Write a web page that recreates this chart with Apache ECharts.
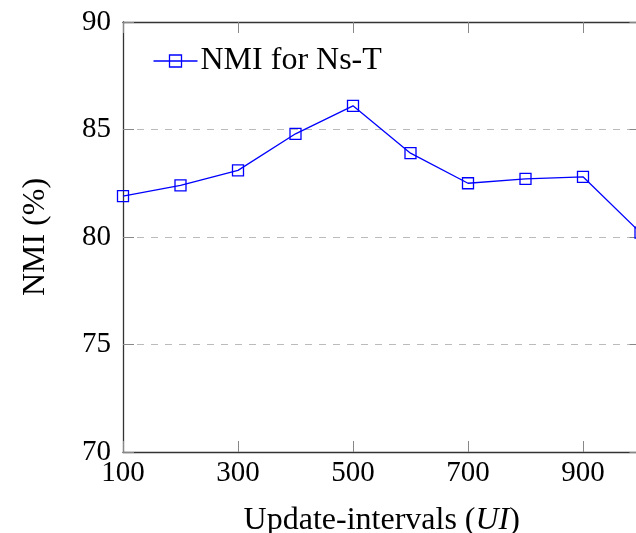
<!DOCTYPE html>
<html>
<head>
<meta charset="utf-8">
<script src="https://cdn.jsdelivr.net/npm/echarts@6/dist/echarts.min.js"></script>
<style>html,body{margin:0;padding:0;background:#fff}#c{width:636px;height:533px}</style>
</head>
<body>
<div id="c"></div>
<script>
const xValues = [100, 200, 300, 400, 500, 600, 700, 800, 900, 1000];
const nmiValues = [81.9, 82.4, 83.1, 84.8, 86.1, 83.9, 82.5, 82.7, 82.8, 80.2];
const seriesName = 'NMI for Ns-T';
const xTicks = [100, 300, 500, 700, 900];
const yTicks = [70, 75, 80, 85, 90];

const font = 'Liberation Serif';
const chart = echarts.init(document.getElementById('c'), null, {renderer: 'canvas'});
const axisLine = {show: true, lineStyle: {color: '#333', width: 1.3}};
const tick = {show: true, inside: true, length: 11, lineStyle: {color: '#888', width: 1}};
chart.setOption({
  animation: false,
  backgroundColor: '#fff',
  grid: {left: 123, width: 517.5, top: 22, height: 430, containLabel: false, outerBoundsMode: 'none'},
  legend: {
    left: 146, top: 40, itemWidth: 44, itemHeight: 12, itemGap: 0,
    textStyle: {fontFamily: font, fontSize: 32, color: '#000', padding: [0, 0, 0, -2]},
    data: [{name: seriesName, icon: 'path://M0,6 L44,6 M16,0 L28,0 L28,12 L16,12 Z'}],
    itemStyle: {color: 'none', borderColor: '#0000ff', borderWidth: 1.3}
  },
  xAxis: [{
    type: 'value', min: 100, max: 1000, interval: 200,
    name: 'Update-intervals ({i|UI})', nameLocation: 'middle', nameGap: 53,
    nameTextStyle: {fontFamily: font, fontSize: 32, color: '#000', rich: {i: {fontFamily: font, fontStyle: 'italic', fontSize: 32}}},
    axisLine: axisLine, splitLine: {show: false},
    axisLabel: {fontFamily: font, fontSize: 29, color: '#000', margin: 7,
      customValues: xTicks, formatter: v => String(v)},
    axisTick: Object.assign({}, tick, {customValues: xTicks})
  }, {
    type: 'value', position: 'top', min: 100, max: 1000, interval: 200,
    axisLine: axisLine, axisTick: Object.assign({}, tick, {customValues: xTicks}),
    axisLabel: {show: false}, splitLine: {show: false}
  }],
  yAxis: [{
    type: 'value', min: 70, max: 90, interval: 5,
    name: 'NMI (%)', nameLocation: 'middle', nameGap: 71,
    nameTextStyle: {fontFamily: font, fontSize: 32, color: '#000'},
    axisLine: axisLine, axisTick: tick,
    axisLabel: {fontFamily: font, fontSize: 29, color: '#000', margin: 12,
      customValues: yTicks, formatter: v => String(v)},
    splitLine: {show: true, lineStyle: {color: '#bbb', type: [7, 7], width: 1}}
  }, {
    type: 'value', position: 'right', min: 70, max: 90, interval: 5,
    axisLine: axisLine, axisTick: tick, axisLabel: {show: false}, splitLine: {show: false}
  }],
  series: [{
    name: seriesName, type: 'line',
    data: xValues.map((x, i) => [x, nmiValues[i]]),
    symbol: 'rect', symbolSize: 11,
    lineStyle: {color: '#0000ff', width: 1.3},
    itemStyle: {color: 'rgba(0,0,0,0)', borderColor: '#0000ff', borderWidth: 1.3},
    clip: false, z: 3
  }]
});
</script>
</body>
</html>
